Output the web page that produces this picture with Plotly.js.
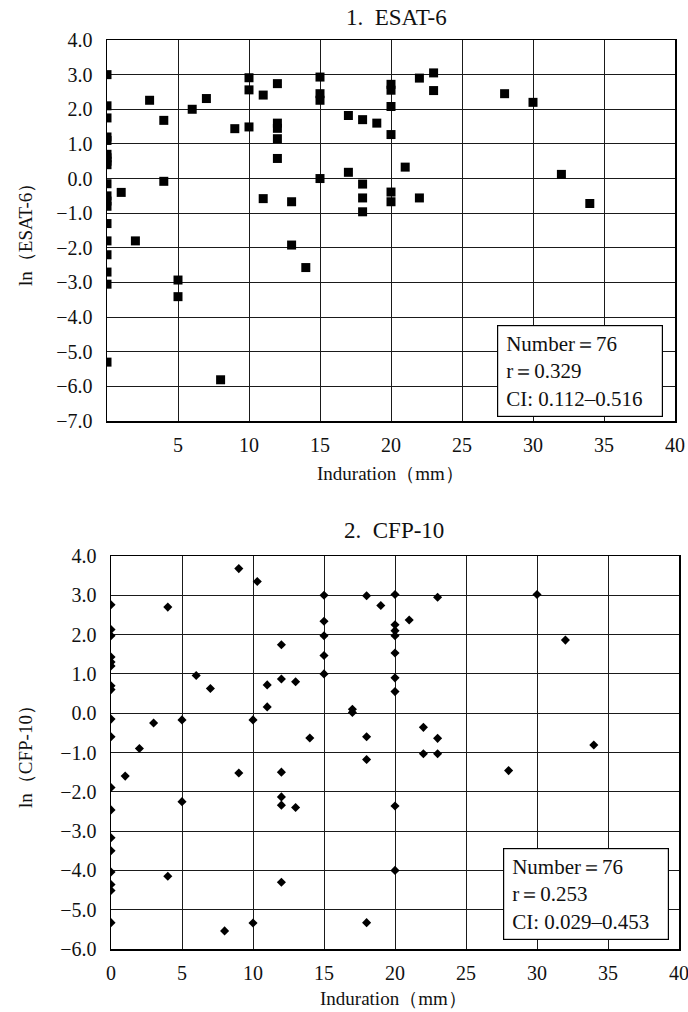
<!DOCTYPE html>
<html><head><meta charset="utf-8">
<script src="https://cdn.plot.ly/plotly-3.0.1.min.js"></script>
<style>html,body{margin:0;padding:0;background:#fff}#chart{width:688px;height:1012px}</style>
</head><body><div id="chart"></div>
<script>
// ESAT-6 panel
const esatX = [0,0,0,0,0,0,0,0,0,0,0,0,0,0,0,0,0,0,0,
  1,2,3,4,4,5,5,6,7,8,9,10,10,10,11,11,12,12,12,12,12,13,13,14,15,15,15,15,
  17,17,18,18,18,18,19,20,20,20,20,20,20,21,22,22,23,23,28,30,32,34];
const esatY = [3.0,2.1,1.75,1.2,1.1,0.7,0.6,0.5,0.4,-0.15,-0.5,-0.65,-0.8,-1.3,-1.8,-2.2,-2.7,-3.05,-5.3,
  -0.4,-1.8,2.26,1.68,-0.08,-2.93,-3.41,2.0,2.31,-5.81,1.44,2.91,2.56,1.49,2.41,-0.58,2.74,1.6,1.45,1.15,0.58,-0.67,-1.92,-2.57,2.93,2.45,2.26,0.0,
  1.82,0.18,1.70,-0.16,-0.56,-0.96,1.60,2.72,2.55,2.08,1.27,-0.39,-0.67,0.33,2.9,-0.56,3.05,2.54,2.45,2.2,0.12,-0.72];
// CFP-10 panel
const cfpX = [0,0,0,0,0,0,0,0,0,0,0,0,0,0,0,0,0,0,
  1,2,3,4,4,5,5,6,7,8,9,9,10.3,10,10,11,11,12,12,12,12,12,12,13,13,14,15,15,15,15,15,
  17,17,18,18,18,18,19,20,20,20,20,20,20,20,20,20,21,22,22,23,23,23,28,30,32,34];
const cfpY = [2.76,2.13,1.97,1.43,1.30,1.2,0.7,0.6,-0.15,-0.6,-1.89,-2.46,-3.17,-3.5,-4.04,-4.36,-4.51,-5.33,
  -1.6,-0.9,-0.25,2.7,-4.15,-0.17,-2.25,0.96,0.63,-5.54,3.68,-1.52,3.35,-0.17,-5.34,0.72,0.16,1.74,0.87,-1.5,-2.13,-2.34,-4.3,0.8,-2.4,-0.63,3.0,2.34,1.97,1.47,1.0,
  0.1,0.02,2.99,-0.6,-1.18,-5.33,2.74,3.02,2.25,2.1,1.97,1.53,0.9,0.55,-2.36,-4.0,2.37,-0.36,-1.03,2.95,-0.64,-1.03,-1.46,3.02,1.86,-0.81];

const xTicksTop = [5,10,15,20,25,30,35,40];
const xTicksBottom = [0,5,10,15,20,25,30,35,40];
const yTicksTop = [-7,-6,-5,-4,-3,-2,-1,0,1,2,3,4];
const yTicksBottom = [-6,-5,-4,-3,-2,-1,0,1,2,3,4];

const panelTitles = ['1.  ESAT-6', '2.  CFP-10'];
const yTitles = ['ln（ESAT-6）', 'ln（CFP-10）'];
const xTitle = 'Induration（mm）';
const statsTop = ['Number＝76', 'r＝0.329', 'CI: 0.112–0.516'];
const statsBottom = ['Number＝76', 'r＝0.253', 'CI: 0.029–0.453'];

const FONT = 'Times New Roman, Liberation Serif, DejaVu Serif, serif';
const fmtY = v => (v < 0 ? '\u2212' : '') + Math.abs(v).toFixed(1);

const axisCommon = {
  showgrid: true, gridcolor: '#1a1a1a', gridwidth: 1,
  showline: true, linecolor: '#000', linewidth: 1.5, mirror: true,
  zeroline: false, ticks: '', fixedrange: true, ticklabeloverflow: 'allow',
  tickfont: {family: FONT, size: 20, color: '#111'}
};

const traces = [
  {x: esatX, y: esatY, type: 'scatter', mode: 'markers', xaxis: 'x', yaxis: 'y',
   marker: {symbol: 'square', size: 9, color: '#000'}, hoverinfo: 'x+y'},
  {x: cfpX, y: cfpY, type: 'scatter', mode: 'markers', xaxis: 'x2', yaxis: 'y2',
   marker: {symbol: 'diamond', size: 7, color: '#000'}, hoverinfo: 'x+y'}
];

const layout = {
  width: 688, height: 1012,
  margin: {l: 0, r: 0, t: 0, b: 0},
  paper_bgcolor: '#fff', plot_bgcolor: '#fff',
  showlegend: false,
  font: {family: FONT, color: '#111'},
  xaxis: Object.assign({}, axisCommon, {domain: [107/688, 675/688], range: [0, 40],
    tickmode: 'array', tickvals: xTicksTop, ticktext: xTicksTop.map(String), anchor: 'y', ticklabelstandoff: 5}),
  yaxis: Object.assign({}, axisCommon, {domain: [1 - 421/1012, 1 - 40/1012], range: [-7, 4],
    tickmode: 'array', tickvals: yTicksTop, ticktext: yTicksTop.map(fmtY), anchor: 'x', ticklabelstandoff: 9}),
  xaxis2: Object.assign({}, axisCommon, {domain: [111/688, 679/688], range: [0, 40],
    tickmode: 'array', tickvals: xTicksBottom, ticktext: xTicksBottom.map(String), anchor: 'y2', ticklabelstandoff: 5}),
  yaxis2: Object.assign({}, axisCommon, {domain: [1 - 949/1012, 1 - 556/1012], range: [-6, 4],
    tickmode: 'array', tickvals: yTicksBottom, ticktext: yTicksBottom.map(fmtY), anchor: 'x2', ticklabelstandoff: 9}),
  annotations: [
    {text: panelTitles[0], xref: 'paper', yref: 'paper', x: 396/688, y: 1 - 17/1012, xanchor: 'center', yanchor: 'middle', showarrow: false, font: {family: FONT, size: 23, color: '#111'}},
    {text: panelTitles[1], xref: 'paper', yref: 'paper', x: 394/688, y: 1 - 530/1012, xanchor: 'center', yanchor: 'middle', showarrow: false, font: {family: FONT, size: 23, color: '#111'}},
    {text: yTitles[0], xref: 'paper', yref: 'paper', x: 25/688, y: 1 - 230/1012, xanchor: 'center', yanchor: 'middle', textangle: -90, showarrow: false, font: {family: FONT, size: 19, color: '#111'}},
    {text: yTitles[1], xref: 'paper', yref: 'paper', x: 25/688, y: 1 - 752/1012, xanchor: 'center', yanchor: 'middle', textangle: -90, showarrow: false, font: {family: FONT, size: 19, color: '#111'}},
    {text: xTitle, xref: 'paper', yref: 'paper', x: 390/688, y: 1 - 474/1012, xanchor: 'center', yanchor: 'middle', showarrow: false, font: {family: FONT, size: 19, color: '#111'}},
    {text: xTitle, xref: 'paper', yref: 'paper', x: 393/688, y: 1 - 998/1012, xanchor: 'center', yanchor: 'middle', showarrow: false, font: {family: FONT, size: 19, color: '#111'}},
    {text: statsTop.join('<br>'), xref: 'paper', yref: 'paper', x: 497/688, y: 1 - 325/1012, xanchor: 'left', yanchor: 'top', align: 'left',
     showarrow: false, bgcolor: '#fff', bordercolor: '#000', borderwidth: 1.2, borderpad: 8, width: 148, height: 74, valign: 'middle',
     font: {family: FONT, size: 21, color: '#111'}},
    {text: statsBottom.join('<br>'), xref: 'paper', yref: 'paper', x: 503/688, y: 1 - 848/1012, xanchor: 'left', yanchor: 'top', align: 'left',
     showarrow: false, bgcolor: '#fff', bordercolor: '#000', borderwidth: 1.2, borderpad: 8, width: 148, height: 74, valign: 'middle',
     font: {family: FONT, size: 21, color: '#111'}}
  ]
};

Plotly.newPlot('chart', traces, layout, {displayModeBar: false, staticPlot: true});
</script>
</body></html>
